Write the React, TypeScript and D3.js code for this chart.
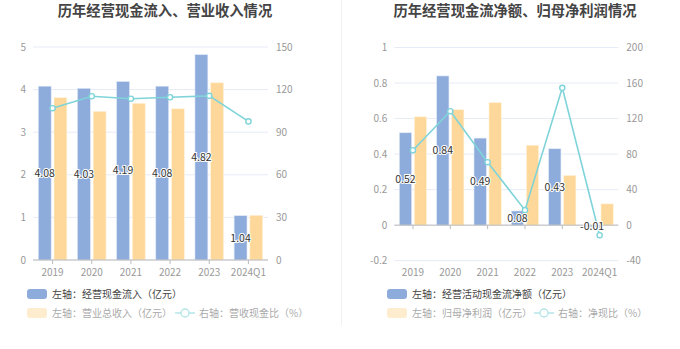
import React from "react";
import * as d3 from "d3";

const categories = ["2019", "2020", "2021", "2022", "2023", "2024Q1"];

// Left chart
const cashInflow = [4.08, 4.03, 4.19, 4.08, 4.82, 1.04];
const revenue = [3.81, 3.49, 3.68, 3.55, 4.16, 1.05];
const cashRevenueRatio = [106.9, 115.3, 113.6, 114.6, 115.6, 97.6];
const leftTicksL = [0, 1, 2, 3, 4, 5];
const leftTicksR = [0, 30, 60, 90, 120, 150];

// Right chart
const netCashFlow = [0.52, 0.84, 0.49, 0.08, 0.43, -0.01];
const netProfit = [0.61, 0.65, 0.69, 0.45, 0.28, 0.12];
const netCashRatio = [84.4, 128.3, 70.9, 16.9, 154.6, -11.3];
const rightTicksL = [-0.2, 0, 0.2, 0.4, 0.6, 0.8, 1];
const rightTicksR = [-40, 0, 40, 80, 120, 160, 200];

const BLUE = "#8dacdb";
const ORANGE = "#fed89a";
const CYAN = "#7fd4d9";
const FONT = "'Noto Sans CJK SC', 'Noto Sans', sans-serif";

type PanelProps = {
  title: string;
  titleX: number;
  left: number;
  right: number;
  top: number;
  bottom: number;
  domainL: [number, number];
  domainR: [number, number];
  ticksL: number[];
  ticksR: number[];
  bars1: number[];
  bars2: number[];
  line: number[];
  leg1: string;
  leg2: string;
  leg3: string;
  legX: number;
  legLineX: number;
  fmtL: (v: number) => string;
};

function Panel(p: PanelProps) {
  const x0 = d3.scaleBand<string>().domain(categories).range([p.left, p.right]).paddingInner(0.27).paddingOuter(0.135);
  const x1 = d3.scaleBand<string>().domain(["a", "b"]).range([0, x0.bandwidth()]).paddingInner(0.18);
  const yL = d3.scaleLinear().domain(p.domainL).range([p.bottom, p.top]);
  const yR = d3.scaleLinear().domain(p.domainR).range([p.bottom, p.top]);
  const center = (c: string) => (x0(c) as number) + x0.bandwidth() / 2;
  const lineGen = d3
    .line<number>()
    .x((_, i) => center(categories[i]))
    .y((d) => yR(d));
  const zeroY = yL(0);
  const bw = x1.bandwidth();
  return (
    <g fontFamily={FONT}>
      <text x={p.titleX} y={16} textAnchor="middle" fontSize={14.3} fontWeight="bold" fill="#444">
        {p.title}
      </text>
      {p.ticksL.map((t) => (
        <line key={"g" + t} x1={p.left} x2={p.right} y1={yL(t)} y2={yL(t)} stroke="#e6ebf5" strokeWidth={1} />
      ))}
      {p.ticksL.map((t) => (
        <text key={"l" + t} x={p.left - 7} y={yL(t)} dy="0.35em" textAnchor="end" fontSize={10} fill="#999">
          {p.fmtL(t)}
        </text>
      ))}
      {p.ticksR.map((t) => (
        <text key={"r" + t} x={p.right + 8} y={yR(t)} dy="0.35em" textAnchor="start" fontSize={10} fill="#999">
          {t}
        </text>
      ))}
      {categories.map((c, i) => {
        const v1 = p.bars1[i];
        const v2 = p.bars2[i];
        const bx1 = (x0(c) as number) + (x1("a") as number);
        const bx2 = (x0(c) as number) + (x1("b") as number);
        return (
          <g key={c}>
            <rect x={bx1} y={Math.min(yL(v1), zeroY)} width={bw} height={Math.abs(yL(v1) - zeroY)} fill={BLUE} stroke="#dfe8f6" strokeWidth={0.6} />
            <rect x={bx2} y={Math.min(yL(v2), zeroY)} width={bw} height={Math.abs(yL(v2) - zeroY)} fill={ORANGE} stroke="#fff3df" strokeWidth={0.6} />
          </g>
        );
      })}
      <line x1={p.left} x2={p.right} y1={zeroY} y2={zeroY} stroke="#bbb" strokeWidth={1} />
      {categories.map((c) => (
        <g key={"t" + c}>
          <line x1={center(c)} x2={center(c)} y1={zeroY} y2={zeroY + 4} stroke="#bbb" strokeWidth={1} />
          <text x={center(c)} y={p.bottom + 12} dy="0.35em" textAnchor="middle" fontSize={10} fill="#999">
            {c}
          </text>
        </g>
      ))}
      <path d={lineGen(p.line) || ""} fill="none" stroke={CYAN} strokeWidth={1.6} />
      {p.line.map((v, i) => (
        <circle key={"c" + i} cx={center(categories[i])} cy={yR(v)} r={2.6} fill="#fff" stroke={CYAN} strokeWidth={1.4} />
      ))}
      {categories.map((c, i) => {
        const v1 = p.bars1[i];
        const bx1 = (x0(c) as number) + (x1("a") as number) + bw / 2;
        return (
          <text
            key={"v" + c}
            x={bx1}
            y={(yL(v1) + zeroY) / 2}
            dy="0.35em"
            textAnchor="middle"
            fontSize={10.5}
            fill="#333"
            stroke="#fff"
            strokeWidth={2}
            paintOrder="stroke"
          >
            {v1.toFixed(2)}
          </text>
        );
      })}
      {/* legend */}
      <rect x={p.legX} y={289} width={20} height={10} rx={3} fill={BLUE} />
      <text x={p.legX + 25} y={294} dy="0.35em" fontSize={10} fill="#444">
        {p.leg1}
      </text>
      <rect x={p.legX} y={308} width={20} height={10} rx={3} fill="#feeccf" />
      <text x={p.legX + 25} y={313} dy="0.35em" fontSize={10} fill="#aaa">
        {p.leg2}
      </text>
      <line x1={p.legLineX} x2={p.legLineX + 20} y1={313} y2={313} stroke="#b5e6e9" strokeWidth={1.5} />
      <circle cx={p.legLineX + 10} cy={313} r={4} fill="#fff" stroke="#b5e6e9" strokeWidth={1.4} />
      <text x={p.legLineX + 24} y={313} dy="0.35em" fontSize={10} fill="#aaa">
        {p.leg3}
      </text>
    </g>
  );
}

export default function App() {
  return (
    <svg width={680} height={349} style={{ position: "absolute", left: 0, top: 0, background: "#fff" }}>
      <rect width={680} height={349} fill="#fff" />
      <line x1={341.5} x2={341.5} y1={0} y2={325} stroke="#f0f0f0" strokeWidth={1} />
      <Panel
        title="历年经营现金流入、营业收入情况"
        titleX={165}
        left={33}
        right={268}
        top={47}
        bottom={260}
        domainL={[0, 5]}
        domainR={[0, 150]}
        ticksL={leftTicksL}
        ticksR={leftTicksR}
        bars1={cashInflow}
        bars2={revenue}
        line={cashRevenueRatio}
        leg1="左轴：经营现金流入（亿元）"
        leg2="左轴：营业总收入（亿元）"
        leg3="右轴：营收现金比（%）"
        legX={27}
        legLineX={175}
        fmtL={(v) => String(v)}
      />
      <Panel
        title="历年经营现金流净额、归母净利润情况"
        titleX={515}
        left={394.3}
        right={618.3}
        top={47.5}
        bottom={260.7}
        domainL={[-0.2, 1]}
        domainR={[-40, 200]}
        ticksL={rightTicksL}
        ticksR={rightTicksR}
        bars1={netCashFlow}
        bars2={netProfit}
        line={netCashRatio}
        leg1="左轴：经营活动现金流净额（亿元）"
        leg2="左轴：归母净利润（亿元）"
        leg3="右轴：净现比（%）"
        legX={387}
        legLineX={534}
        fmtL={(v) => String(Math.round(v * 10) / 10)}
      />
    </svg>
  );
}
